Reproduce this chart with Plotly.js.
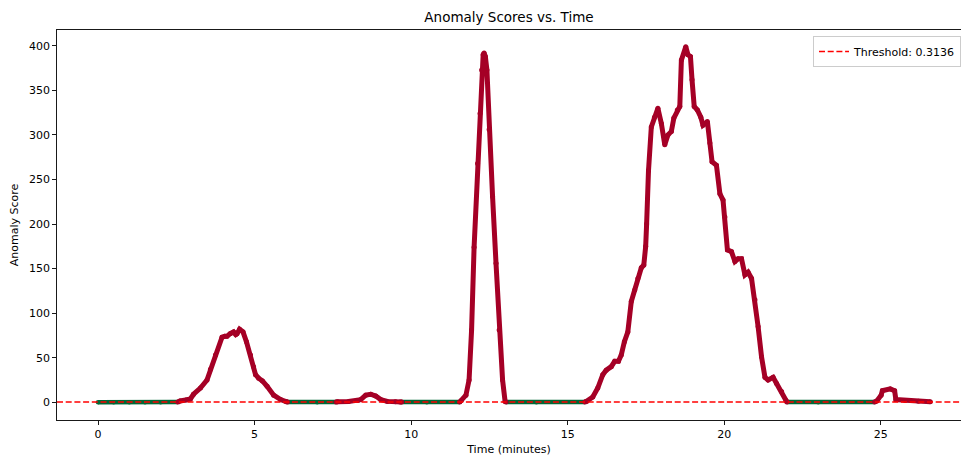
<!DOCTYPE html>
<html>
<head>
<meta charset="utf-8">
<script src="https://cdn.plot.ly/plotly-3.0.1.min.js"></script>
<style>
  html, body { margin: 0; padding: 0; background: #fff; }
  #chart { width: 961px; height: 456px; }
</style>
</head>
<body>
<div id="chart"></div>
<script>
// ---- Data ----
const threshold = 0.3136;

const times = [
  0, 0.5, 1.0, 1.5, 2.0, 2.55,
  2.62, 2.8, 2.95, 3.05, 3.27, 3.48, 3.59, 3.75, 3.96, 4.05, 4.12, 4.22, 4.33, 4.4, 4.44, 4.52, 4.63, 4.74, 4.87, 4.97, 5.03, 5.13, 5.25, 5.40, 5.61, 5.83, 6.0,
  6.05, 7.0, 7.6,
  7.65, 8.0, 8.3, 8.39, 8.55, 8.71, 8.87, 9.03, 9.24, 9.5, 9.65,
  9.7, 10.5, 11.55,
  11.6, 11.75, 11.85, 11.93, 12.01, 12.12, 12.2, 12.25, 12.3, 12.33, 12.37, 12.42, 12.49, 12.6, 12.71, 12.81, 12.92, 13.0,
  13.03, 14.0, 15.55,
  15.6, 15.8, 15.96, 16.12, 16.23, 16.39, 16.5, 16.62, 16.71, 16.81, 16.92, 17.03, 17.14, 17.24, 17.35, 17.43, 17.49, 17.52, 17.58, 17.67, 17.77, 17.88, 17.99, 18.1, 18.2, 18.31, 18.39, 18.5, 18.58, 18.63, 18.77, 18.84, 18.92, 18.97, 19.04, 19.14, 19.25, 19.32, 19.46, 19.54, 19.61, 19.75, 19.86, 19.96, 20.02, 20.1, 20.23, 20.34, 20.44, 20.55, 20.66, 20.76, 20.87, 20.98, 21.08, 21.19, 21.3, 21.4, 21.56, 21.67, 21.83, 21.97,
  22.0, 23.0, 24.8,
  24.87, 25.01, 25.05, 25.3, 25.44, 25.48, 25.78, 26.2, 26.58
];

const scores = [
  0, 0.1, 0.1, 0.1, 0.1, 0.2,
  1.5, 2.5, 3.7, 9, 16, 25, 37, 53, 73, 74, 74, 77, 79, 76, 77, 82, 79, 68, 53, 40, 31, 27, 24, 18, 8, 3, 1,
  0.2, 0.1, 0.2,
  0.5, 0.8, 2, 3, 8, 9, 7, 3, 1, 0.6, 0.4,
  0.2, 0.1, 0.2,
  2, 8, 25, 81, 174, 268, 324, 373, 390, 392, 388, 373, 306, 231, 156, 81, 25, 1,
  0.2, 0.1, 0.2,
  1, 6, 16, 31, 36, 40, 46, 46, 53, 68, 79, 113, 126, 139, 151, 154, 175, 200, 260, 309, 320, 330, 313, 289, 300, 304, 319, 328, 332, 384, 399, 390, 388, 362, 332, 328, 320, 311, 315, 291, 270, 266, 234, 227, 208, 171, 169, 158, 161, 161, 143, 146, 139, 115, 85, 51, 28, 25, 28, 21, 12, 2,
  0.2, 0.1, 0.2,
  1.5, 8, 13, 15, 13, 3, 2, 1.2, 0.5
];

const xTicks = [0, 5, 10, 15, 20, 25];
const yTicks = [0, 50, 100, 150, 200, 250, 300, 350, 400];
const xRange = [-1.31, 27.56];
const yRange = [-19.9, 417.8];

// ---- Split points into above / below-threshold runs ----
// Red runs also take in their immediate below-threshold neighbours so the
// drawn curve stays continuous, as the dense scatter in the reference does.
const redX = [], redY = [], greenX = [], greenY = [];
for (let i = 0; i < times.length; i++) {
  const above = scores[i] > threshold;
  const prevAbove = i > 0 ? scores[i - 1] > threshold : null;
  const nextAbove = i < times.length - 1 ? scores[i + 1] > threshold : null;
  if (above) {
    if (prevAbove === false) { redX.push(times[i - 1]); redY.push(scores[i - 1]); }
    redX.push(times[i]); redY.push(scores[i]);
    if (nextAbove === false) {
      redX.push(times[i + 1]); redY.push(scores[i + 1]);
      redX.push(null); redY.push(null);
    }
  } else {
    greenX.push(times[i]); greenY.push(scores[i]);
    if (nextAbove === true) { greenX.push(null); greenY.push(null); }
  }
}

const font = 'DejaVu Sans, sans-serif';

const traces = [
  {
    x: greenX, y: greenY, type: 'scatter', mode: 'lines+markers',
    line: { color: '#006837', width: 4.5 },
    marker: { color: '#006837', size: 4.5, line: { width: 0 } },
    connectgaps: false, showlegend: false, hoverinfo: 'skip'
  },
  {
    x: redX, y: redY, type: 'scatter', mode: 'lines+markers',
    line: { color: '#a50026', width: 5 },
    marker: { color: '#a50026', size: 5, line: { width: 0 } },
    connectgaps: false, showlegend: false, hoverinfo: 'skip'
  },
  {
    x: xRange, y: [threshold, threshold], type: 'scatter', mode: 'lines',
    name: 'Threshold: ' + threshold.toFixed(4),
    line: { color: '#ff0000', width: 1.6, dash: '6px,2.7px' },
    showlegend: true
  }
];

const layout = {
  width: 961, height: 456,
  margin: { l: 57, r: 0, t: 30, b: 36, pad: 0 },
  paper_bgcolor: '#fff', plot_bgcolor: '#fff',
  font: { family: font, size: 11, color: '#000' },
  title: {
    text: 'Anomaly Scores vs. Time',
    font: { family: font, size: 13.5, color: '#000' },
    xref: 'paper', x: 0.5, xanchor: 'center',
    yref: 'container', y: 1 - 17 / 456, yanchor: 'middle'
  },
  xaxis: {
    range: xRange, tickvals: xTicks, ticktext: xTicks.map(String),
    showgrid: false, zeroline: false,
    showline: true, linecolor: '#000', linewidth: 0.9, mirror: true,
    ticks: 'outside', ticklen: 4, tickwidth: 0.9, tickcolor: '#000',
    tickfont: { family: font, size: 11, color: '#000' },
    title: { text: 'Time (minutes)', font: { family: font, size: 11, color: '#000' }, standoff: 6 }
  },
  yaxis: {
    range: yRange, tickvals: yTicks, ticktext: yTicks.map(String),
    showgrid: false, zeroline: false,
    showline: true, linecolor: '#000', linewidth: 0.9, mirror: false,
    ticks: 'outside', ticklen: 4, tickwidth: 0.9, tickcolor: '#000',
    tickfont: { family: font, size: 11, color: '#000' },
    title: { text: 'Anomaly Score', font: { family: font, size: 11, color: '#000' }, standoff: 8 }
  },
  legend: {
    x: 1, xanchor: 'right',
    y: 1 - 6 / 390, yanchor: 'top',
    bgcolor: 'rgba(255,255,255,0.8)', bordercolor: '#cccccc', borderwidth: 1,
    font: { family: font, size: 11, color: '#000' },
    itemwidth: 30
  },
  showlegend: true
};

Plotly.newPlot('chart', traces, layout, { displayModeBar: false, staticPlot: true });
</script>
</body>
</html>
